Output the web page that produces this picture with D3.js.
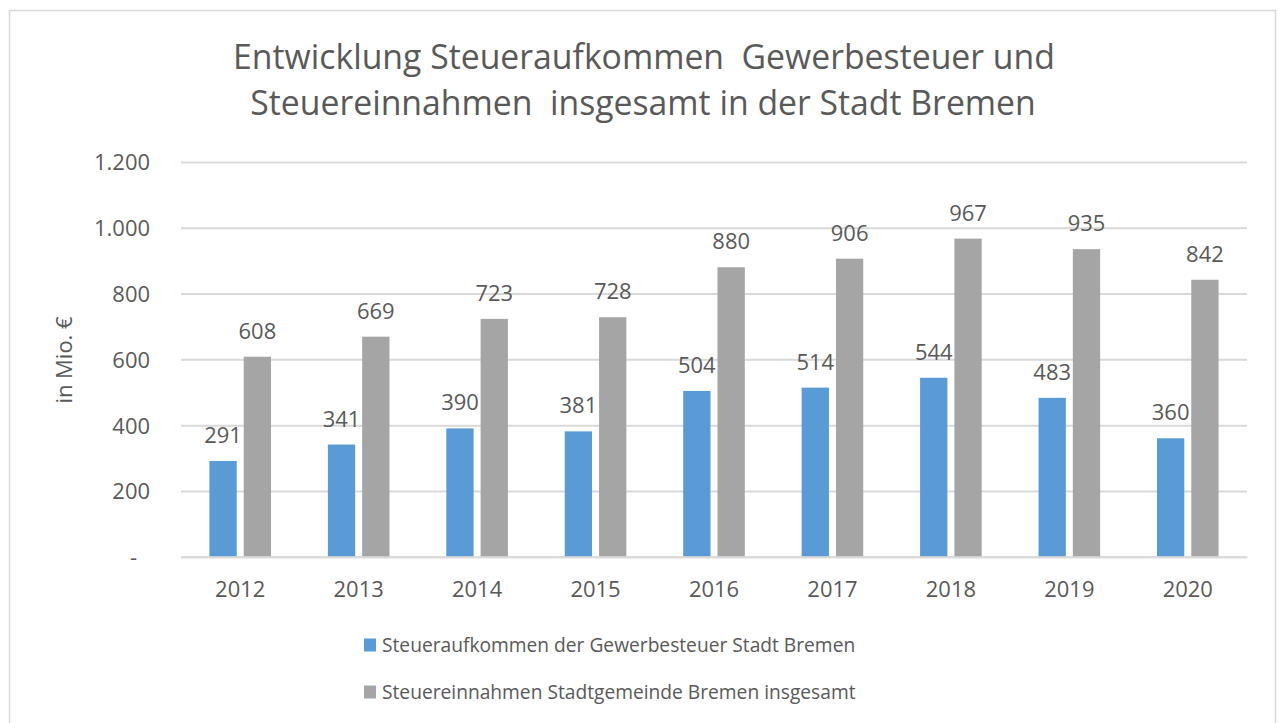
<!DOCTYPE html>
<html><head><meta charset="utf-8">
<script src="https://cdn.jsdelivr.net/npm/d3@7"></script>
<style>html,body{margin:0;padding:0;background:#fff;}svg{display:block;}</style>
</head><body>
<svg id="c" width="1279" height="723"></svg>
<script>
const years = ["2012","2013","2014","2015","2016","2017","2018","2019","2020"];
const gewerbe = [291,341,390,381,504,514,544,483,360];
const gesamt = [608,669,723,728,880,906,967,935,842];
const yTicks = [0,200,400,600,800,1000,1200];
const seriesNames = ["Steueraufkommen der Gewerbesteuer Stadt Bremen","Steuereinnahmen Stadtgemeinde Bremen insgesamt"];
const colors = ["#5B9BD5","#A5A5A5"];
const titleLines = ["Entwicklung Steueraufkommen  Gewerbesteuer und","Steuereinnahmen  insgesamt in der Stadt Bremen"];

(function(){
const FONT = "'Open Sans', sans-serif";
const txt = "#595959";
const svg = d3.select("#c");

function fit(sel, target){
  const w = sel.node().getComputedTextLength();
  const fs = parseFloat(sel.attr("font-size"));
  sel.attr("font-size", fs*target/w);
  return fs*target/w;
}

svg.append("rect").attr("x",9.5).attr("y",10.5).attr("width",1266).attr("height",730)
  .attr("fill","#fff").attr("stroke","#d9d9d9").attr("stroke-width",1.5);

const pL=181, pR=1247, pT=162, pB=556.7;
const x = d3.scaleBand().domain(years).range([pL,pR]).paddingInner(0).paddingOuter(0);
const y = d3.scaleLinear().domain([0,1200]).range([pB,pT]);

const t1 = svg.append("text").attr("x",644).attr("y",69).attr("text-anchor","middle")
  .attr("font-family",FONT).attr("font-size",32).attr("fill",txt).style("white-space","pre").text(titleLines[0]);
const fsT = fit(t1, 822);
svg.append("text").attr("x",643).attr("y",115).attr("text-anchor","middle")
  .attr("font-family",FONT).attr("font-size",fsT).attr("fill",txt).style("white-space","pre").text(titleLines[1]);

const yAxis = d3.axisLeft(y).tickValues(yTicks).tickSize(-(pR-pL))
  .tickFormat(d => d===0 ? "-" : d3.format(",")(d).replace(/,/g,"."));
const gy = svg.append("g").attr("transform",`translate(${pL},0)`).call(yAxis);
gy.select(".domain").remove();
gy.selectAll(".tick line").attr("stroke","#d9d9d9").attr("stroke-width",2);
gy.selectAll(".tick text").attr("font-family",FONT).attr("fill",txt).attr("font-size",21)
  .attr("x",-31).attr("dy","0.36em");
const fsTick = fit(gy.selectAll(".tick text").filter(d=>d===1200), 56);
gy.selectAll(".tick text").attr("font-size",fsTick);
gy.selectAll(".tick text").filter(d=>d===0).attr("x",-44);

svg.append("text").attr("transform",`translate(72,360) rotate(-90)`).attr("text-anchor","middle")
  .attr("font-family",FONT).attr("font-size",fsTick).attr("fill",txt).text("in Mio. €");

const barW = 27.3, gap = 7;
const data = years.map((yr,i)=>({yr, vals:[gewerbe[i], gesamt[i]]}));
const groups = svg.append("g").selectAll("g").data(data).join("g")
  .attr("transform", d=>`translate(${x(d.yr)+x.bandwidth()/2},0)`);
[0,1].forEach(s=>{
  const off = s===0 ? -(gap/2+barW) : gap/2;
  groups.append("rect").attr("x",off).attr("width",barW)
    .attr("y",d=>y(d.vals[s])).attr("height",d=>y(0)-y(d.vals[s])).attr("fill",colors[s]);
  groups.append("text").attr("x",off+barW/2).attr("y",d=>y(d.vals[s])-18)
    .attr("text-anchor","middle").attr("font-family",FONT).attr("font-size",fsTick).attr("fill",txt)
    .text(d=>d.vals[s]);
});

const xAxis = d3.axisBottom(x).tickSize(0).tickPadding(0);
const gx = svg.append("g").attr("transform",`translate(0,${pB})`).call(xAxis);
gx.select(".domain").attr("stroke","#d9d9d9").attr("stroke-width",2);
gx.selectAll(".tick text").attr("font-family",FONT).attr("font-size",fsTick).attr("fill",txt)
  .attr("y",40).attr("dy",0);

const lg = svg.append("g");
let fsL = null;
seriesNames.forEach((n,i)=>{
  const cy = 645 + i*47;
  lg.append("rect").attr("x",364).attr("y",cy-6.5).attr("width",12).attr("height",13).attr("fill",colors[i]);
  const tt = lg.append("text").attr("x",382).attr("y",cy).attr("dy","0.36em")
    .attr("font-family",FONT).attr("font-size",fsL || fsTick*0.92).attr("fill",txt).text(n);
  if(i===0) fsL = fit(tt,473);
});
})();
</script>
</body></html>
